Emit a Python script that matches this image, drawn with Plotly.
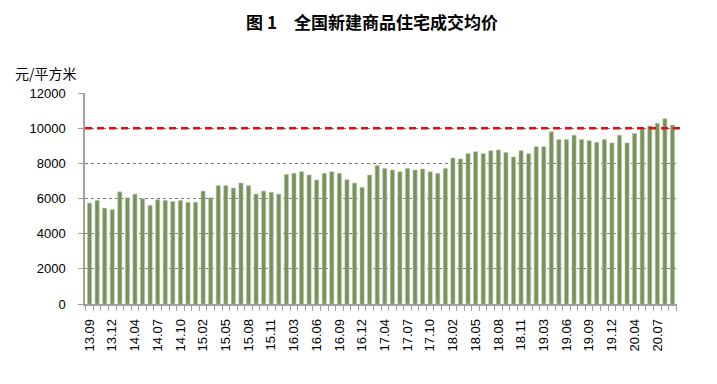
import plotly.graph_objects as go

months = ["13.09", "13.10", "13.11", "13.12",
          "14.02", "14.03", "14.04", "14.05", "14.06", "14.07", "14.08", "14.09", "14.10", "14.11", "14.12",
          "15.02", "15.03", "15.04", "15.05", "15.06", "15.07", "15.08", "15.09", "15.10", "15.11", "15.12",
          "16.02", "16.03", "16.04", "16.05", "16.06", "16.07", "16.08", "16.09", "16.10", "16.11", "16.12",
          "17.02", "17.03", "17.04", "17.05", "17.06", "17.07", "17.08", "17.09", "17.10", "17.11", "17.12",
          "18.02", "18.03", "18.04", "18.05", "18.06", "18.07", "18.08", "18.09", "18.10", "18.11", "18.12",
          "19.02", "19.03", "19.04", "19.05", "19.06", "19.07", "19.08", "19.09", "19.10", "19.11", "19.12",
          "20.02", "20.03", "20.04", "20.05", "20.06", "20.07", "20.08", "20.09"]

price = [5740, 5890, 5450, 5360,
         6380, 6040, 6250, 5990, 5610, 5930, 5890, 5830, 5890, 5780, 5780,
         6420, 6040, 6730, 6730, 6590, 6880, 6730, 6250, 6420, 6350, 6250,
         7370, 7430, 7520, 7330, 7050, 7430, 7520, 7430, 7070, 6880, 6630,
         7330, 7870, 7710, 7620, 7520, 7710, 7620, 7680, 7520, 7430, 7710,
         8300, 8250, 8550, 8660, 8550, 8720, 8760, 8610, 8360, 8720, 8550,
         8950, 8950, 9790, 9350, 9350, 9600, 9350, 9290, 9200, 9350, 9160,
         9600, 9160, 9690, 9940, 10130, 10280, 10530, 10180]

reference_level = 10000
y_ticks = [0, 2000, 4000, 6000, 8000, 10000, 12000]
y_tick_text = ["0", "2000", "4000", "6000", "8000", "10000", "12000"]
labelled = months[::3]

tick_text = [m if m in labelled else "" for m in months]

fig = go.Figure()
fig.add_trace(go.Bar(
    x=months, y=price,
    marker=dict(color="#77925B", line=dict(color="#b4c6a2", width=0.6)),
    hoverinfo="x+y",
))

fig.add_shape(type="line", xref="paper", yref="y", x0=0, x1=1.005,
              y0=reference_level, y1=reference_level,
              line=dict(color="#e01010", width=2.5, dash="7px,5px"), layer="above")

# page body adds an 8px offset
OFF = 8
W, H = 717, 384
L, T = 85 - OFF, 93 - OFF
R = W - (677 - OFF)
B = H - (304 - OFF)
pw, ph = W - L - R, H - T - B

fig.update_layout(
    width=W, height=H,
    margin=dict(l=L, r=R, t=T, b=B, autoexpand=False),
    paper_bgcolor="white", plot_bgcolor="white",
    bargap=0.46,
    showlegend=False,
    font=dict(family="Liberation Sans, Arial, sans-serif", size=13, color="black"),
    title=dict(text="<b>图 1　全国新建商品住宅成交均价</b>",
               x=(372 - OFF) / W, xanchor="center", y=1 - (23 - OFF) / H, yanchor="middle",
               font=dict(family="Noto Sans CJK SC", size=17, color="black")),
    annotations=[dict(text="元/平方米", xref="paper", yref="paper",
                      x=(13 - 85) / pw, y=(304 - 73) / ph,
                      xanchor="left", yanchor="middle", showarrow=False,
                      font=dict(family="Noto Sans CJK SC", size=14, color="black"))],
)

fig.update_xaxes(
    type="category", automargin=False,
    tickmode="array", tickvals=months, ticktext=tick_text,
    tickangle=-90, tickson="boundaries",
    ticks="outside", ticklen=5, tickcolor="#a0a0a0", tickwidth=1,
    showline=True, linecolor="#a0a0a0", linewidth=1.5,
    showgrid=False, ticklabelstandoff=8,
    tickfont=dict(family="Liberation Sans, Arial, sans-serif", size=13),
    range=[-0.6, len(months) - 0.4],
)

fig.update_yaxes(
    range=[0, 12000], tickmode="array", tickvals=y_ticks, ticktext=y_tick_text,
    automargin=False,
    ticks="outside", ticklen=5, tickcolor="#a0a0a0",
    showline=True, linecolor="#a0a0a0", linewidth=1.5,
    showgrid=True, gridcolor="#7a7a7a", griddash="3px,3px", gridwidth=1.2,
    zeroline=False, ticklabelstandoff=10,
    tickfont=dict(family="Liberation Sans, Arial, sans-serif", size=13),
)

fig.write_html("out.html")
